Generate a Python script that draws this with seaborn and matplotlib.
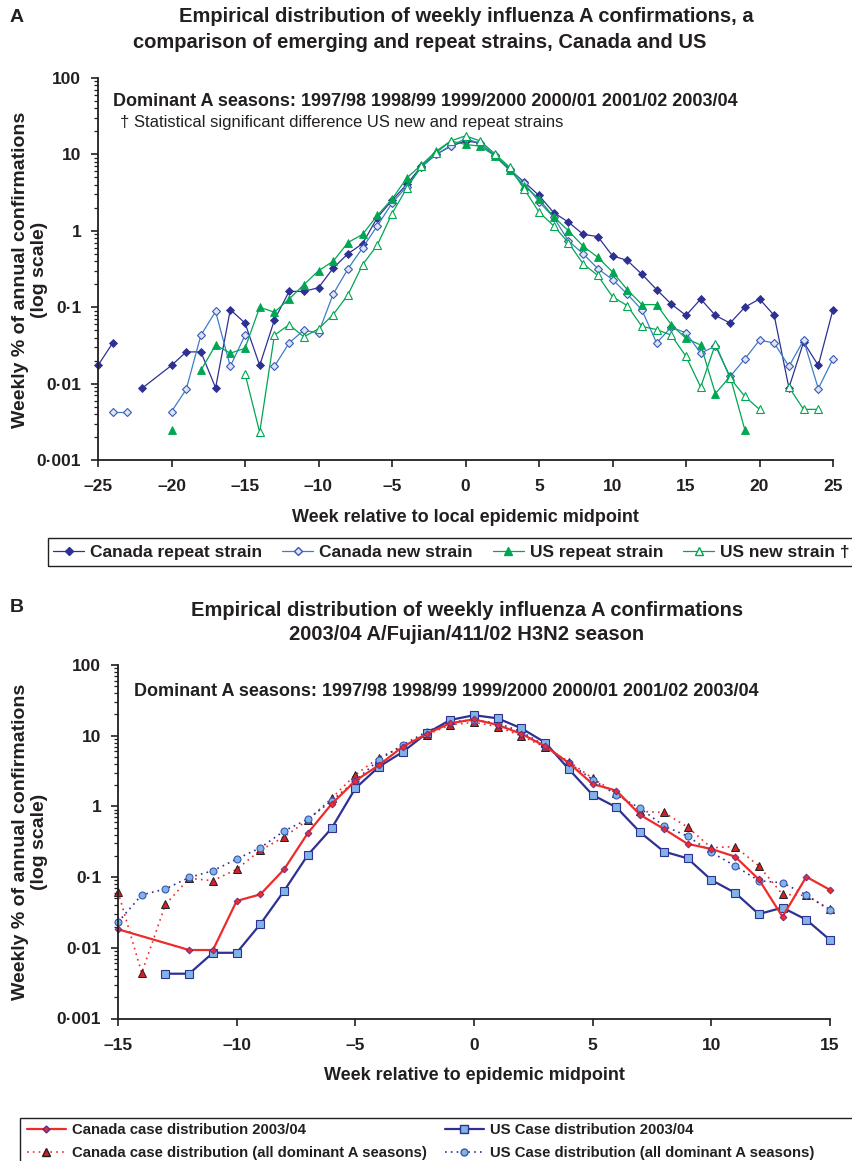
import numpy as np
import pandas as pd
import matplotlib
matplotlib.use("Agg")
import matplotlib.pyplot as plt
import seaborn as sns
from matplotlib.lines import Line2D
from matplotlib.patches import Rectangle
from matplotlib.ticker import FixedLocator, LogLocator, NullFormatter

N = None  # break in a line

# ---------------- Panel A data (week relative to midpoint, weekly %) ----------------
ca_rep_weeks = [-25, -24, N, -22, -20, -19, -18, -17, -16, -15, -14, -13, -12, -11, -10, -9, -8, -7, -6, -5,
                -4, -3, -2, -1, 0, 1, 2, 3, 4, 5, 6, 7, 8, 9, 10, 11, 12, 13, 14, 15, 16, 17, 18, 19, 20,
                21, 22, 23, 24, 25]
ca_rep_vals = [0.0173, 0.034, N, 0.0087, 0.0173, 0.026, 0.026, 0.0088, 0.093, 0.062, 0.0173, 0.068, 0.161,
               0.161, 0.18, 0.325, 0.50, 0.68, 1.49, 2.5, 4.05, 7.0, 10.0, 12.8, 15.0, 14.1, 9.5, 6.3, 4.35,
               2.9, 1.73, 1.3, 0.9, 0.84, 0.47, 0.41, 0.27, 0.17, 0.11, 0.078, 0.128, 0.078, 0.062, 0.10,
               0.128, 0.078, 0.0088, 0.035, 0.0173, 0.093]

ca_new_weeks = [-24, -23, N, -20, -19, -18, -17, -16, -15, N, -13, -12, -11, -10, -9, -8, -7, -6, -5, -4,
                -3, -2, -1, 0, 1, 2, 3, 4, 5, 6, 7, 8, 9, 10, 11, 12, 13, 14, 15, 16, 17, 18, 19, 20, 21,
                22, 23, 24, 25]
ca_new_vals = [0.0043, 0.0043, N, 0.0043, 0.0084, 0.043, 0.088, 0.0168, 0.043, N, 0.0168, 0.034, 0.05,
               0.046, 0.149, 0.316, 0.6, 1.16, 2.3, 3.8, 6.8, 10.0, 13.0, 16.0, 14.0, 9.8, 6.5, 4.2, 2.4,
               1.5, 0.74, 0.50, 0.32, 0.23, 0.149, 0.092, 0.034, 0.055, 0.046, 0.025, 0.031, 0.0124, 0.021,
               0.037, 0.034, 0.0168, 0.037, 0.0086, 0.021]

us_rep_weeks = [-20, N, -18, -17, -16, -15, -14, -13, -12, -11, -10, -9, -8, -7, -6, -5, -4, -3, -2, -1,
                0, 1, 2, 3, 4, 5, 6, 7, 8, 9, 10, 11, 12, 13, 14, 15, 16, 17, 18, 19]
us_rep_vals = [0.0025, N, 0.0149, 0.032, 0.025, 0.029, 0.10, 0.086, 0.128, 0.197, 0.30, 0.40, 0.70, 0.90,
               1.59, 2.6, 4.9, 7.3, 11.0, 15.0, 13.5, 12.8, 9.6, 6.2, 3.9, 2.6, 1.52, 1.0, 0.63, 0.45,
               0.29, 0.17, 0.108, 0.108, 0.059, 0.039, 0.032, 0.0074, 0.0124, 0.0025]

us_new_weeks = [-15, -14, -13, -12, -11, -10, -9, -8, -7, -6, -5, -4, -3, -2, -1, 0, 1, 2, 3, 4, 5, 6, 7,
                8, 9, 10, 11, 12, 13, 14, 15, 16, 17, 18, 19, 20, N, 22, 23, 24]
us_new_vals = [0.0135, 0.0023, 0.043, 0.059, 0.041, 0.052, 0.080, 0.145, 0.36, 0.65, 1.68, 3.6, 7.0, 10.5,
               15.0, 17.5, 15.0, 10.2, 6.8, 3.5, 1.76, 1.16, 0.70, 0.37, 0.26, 0.137, 0.105, 0.056, 0.051,
               0.043, 0.0227, 0.009, 0.033, 0.0118, 0.0068, 0.0046, N, 0.009, 0.0046, 0.0046]

# ---------------- Panel B data ----------------
ca_0304_weeks = [-15, -12, -11, -10, -9, -8, -7, -6, -5, -4, -3, -2, -1, 0, 1, 2, 3, 4, 5, 6, 7, 8, 9, 10,
                 11, 12, 13, 14, 15]
ca_0304_vals = [0.0183, 0.0093, 0.0093, 0.046, 0.057, 0.129, 0.42, 1.08, 2.3, 3.85, 7.0, 10.6, 15.0, 17.0,
                14.2, 10.6, 7.1, 4.1, 2.07, 1.67, 0.76, 0.48, 0.295, 0.25, 0.195, 0.093, 0.0275, 0.101, 0.066]

us_0304_weeks = [-13, -12, -11, -10, -9, -8, -7, -6, -5, -4, -3, -2, -1, 0, 1, 2, 3, 4, 5, 6, 7, 8, 9, 10,
                 11, 12, 13, 14, 15]
us_0304_vals = [0.0043, 0.0043, 0.0085, 0.0085, 0.0217, 0.064, 0.206, 0.49, 1.8, 3.65, 5.9, 10.8, 16.7,
                19.5, 17.6, 12.7, 8.0, 3.35, 1.45, 0.97, 0.43, 0.23, 0.184, 0.091, 0.06, 0.030, 0.037,
                0.025, 0.0129]

all_weeks_b = list(range(-15, 16))
ca_all_vals = [0.062, 0.0044, 0.041, 0.096, 0.089, 0.129, 0.24, 0.37, 0.64, 1.3, 2.8, 4.9, 7.0, 10.3, 14.2,
               15.5, 13.4, 9.9, 6.85, 4.3, 2.5, 1.53, 0.85, 0.82, 0.51, 0.26, 0.27, 0.144, 0.057, 0.055, 0.035]
us_all_vals = [0.023, 0.056, 0.068, 0.099, 0.123, 0.18, 0.26, 0.45, 0.66, 1.2, 2.3, 4.6, 7.4, 11.4, 15.8,
               16.7, 15.0, 11.4, 7.2, 4.1, 2.4, 1.45, 0.94, 0.53, 0.38, 0.224, 0.144, 0.089, 0.083, 0.056, 0.034]

ytick_vals = [0.001, 0.01, 0.1, 1, 10, 100]
ytick_labels = ["0\u00b7001", "0\u00b701", "0\u00b71", "1", "10", "100"]
xticks_a = [-25, -20, -15, -10, -5, 0, 5, 10, 15, 20, 25]
xticks_b = [-15, -10, -5, 0, 5, 10, 15]

legend_a_labels = ["Canada repeat strain", "Canada new strain", "US repeat strain", "US new strain \u2020"]
legend_b_labels = ["Canada case distribution 2003/04", "Canada case distribution (all dominant A seasons)",
                   "US Case distribution 2003/04", "US Case distribution (all dominant A seasons)"]

# ---------------- style ----------------
DARK = "#231F20"
NAVY = "#2E3192"
MIDBLUE = "#3D7DC8"
PALEFILL = "#DCE6F7"
GREEN = "#00A651"
RED = "#EE2B2B"
LIGHTBLUE = "#80B3E6"

sns.set_theme(style="ticks")
plt.rcParams["font.family"] = ["Liberation Sans", "DejaVu Sans"]
plt.rcParams["text.color"] = DARK
plt.rcParams["axes.edgecolor"] = DARK
plt.rcParams["xtick.color"] = DARK
plt.rcParams["ytick.color"] = DARK

W, H = 852, 1161
fig = plt.figure(figsize=(W / 100, H / 100), dpi=100)
fig.patch.set_facecolor("white")


def fx(px):
    return px / W


def fy(py):
    return 1 - py / H


def series_df(weeks, vals):
    w = np.array([np.nan if a is None else a for a in weeks], float)
    v = np.array([np.nan if a is None else a for a in vals], float)
    seg = np.cumsum(np.isnan(v))
    df = pd.DataFrame({"week": w, "value": v, "seg": seg})
    return df.dropna()


def draw(ax, weeks, vals, **kw):
    df = series_df(weeks, vals)
    sns.lineplot(data=df, x="week", y="value", units="seg", estimator=None, sort=False,
                 ax=ax, legend=False, clip_on=False, **kw)


def style_axis(ax, xmin, xmax, xticks):
    ax.set_xlim(xmin, xmax)
    ax.set_ylim(0.001, 100)
    ax.set_xticks(xticks)
    ax.set_xticklabels([("\u2013%d" % -t) if t < 0 else str(t) for t in xticks])
    ax.yaxis.set_major_locator(FixedLocator(ytick_vals))
    ax.set_yticklabels(ytick_labels)
    ax.yaxis.set_minor_locator(LogLocator(base=10, subs=np.arange(2, 10)))
    ax.yaxis.set_minor_formatter(NullFormatter())
    ax.set_xlabel("")
    ax.set_ylabel("")
    sns.despine(ax=ax)
    for s in ("left", "bottom"):
        ax.spines[s].set_linewidth(1.3)
        ax.spines[s].set_color(DARK)
    ax.tick_params(axis="both", which="major", length=5, width=1.2, color=DARK,
                   labelsize=12.5, pad=7)
    ax.tick_params(axis="x", which="major", pad=9)
    ax.tick_params(axis="y", which="minor", length=3, width=0.9, color=DARK)
    for lab in ax.get_xticklabels() + ax.get_yticklabels():
        lab.set_fontweight("bold")
    ax.set_facecolor("white")


# ---------------- Panel A ----------------
axA = fig.add_axes([fx(98), fy(460), (833 - 98) / W, (460 - 78) / H])
axA.set_yscale("log")
draw(axA, ca_rep_weeks, ca_rep_vals, color=NAVY, linewidth=0.9, marker="D", markersize=4.5,
     markerfacecolor=NAVY, markeredgecolor=NAVY, markeredgewidth=0.6)
draw(axA, ca_new_weeks, ca_new_vals, color=MIDBLUE, linewidth=0.9, marker="D", markersize=4.5,
     markerfacecolor=PALEFILL, markeredgecolor="#3B57B4", markeredgewidth=0.8)
draw(axA, us_rep_weeks, us_rep_vals, color=GREEN, linewidth=0.9, marker="^", markersize=5.5,
     markerfacecolor=GREEN, markeredgecolor=GREEN, markeredgewidth=0.6)
draw(axA, us_new_weeks, us_new_vals, color=GREEN, linewidth=0.9, marker="^", markersize=5.5,
     markerfacecolor="white", markeredgecolor=GREEN, markeredgewidth=0.8)
style_axis(axA, -25, 25, xticks_a)

# ---------------- Panel B ----------------
axB = fig.add_axes([fx(118), fy(1018.5), (830 - 118) / W, (1018.5 - 665) / H])
axB.set_yscale("log")
draw(axB, all_weeks_b, ca_all_vals, color=RED, linewidth=1.2, linestyle=(0, (1, 2.5)), marker="^",
     markersize=6, markerfacecolor="#D42027", markeredgecolor=DARK, markeredgewidth=0.7)
draw(axB, all_weeks_b, us_all_vals, color=NAVY, linewidth=1.2, linestyle=(0, (1, 2.5)), marker="o",
     markersize=5, markerfacecolor=LIGHTBLUE, markeredgecolor="#3B57B4", markeredgewidth=0.8)
draw(axB, us_0304_weeks, us_0304_vals, color=NAVY, linewidth=1.6, marker="s", markersize=5.5,
     markerfacecolor=LIGHTBLUE, markeredgecolor=NAVY, markeredgewidth=0.8)
draw(axB, ca_0304_weeks, ca_0304_vals, color=RED, linewidth=1.6, marker="D", markersize=3.5,
     markerfacecolor=RED, markeredgecolor="#5B2D8E", markeredgewidth=0.6)
style_axis(axB, -15, 15, xticks_b)

# ---------------- texts ----------------
bold = dict(fontweight="bold", color=DARK)
fig.text(fx(10), fy(17), "A", fontsize=14, ha="left", va="center", **bold)
fig.text(fx(466), fy(17), "Empirical distribution of weekly influenza A confirmations, a",
         fontsize=14.5, ha="center", va="center", **bold)
fig.text(fx(420), fy(43), "comparison of emerging and repeat strains, Canada and US",
         fontsize=14.5, ha="center", va="center", **bold)
fig.text(fx(113), fy(101), "Dominant A seasons: 1997/98 1998/99 1999/2000 2000/01 2001/02 2003/04",
         fontsize=13, ha="left", va="center", **bold)
fig.text(fx(120), fy(122), "\u2020 Statistical significant difference US new and repeat strains",
         fontsize=12, ha="left", va="center", color=DARK)
fig.text(fx(30), fy(270), "Weekly % of annual confirmations\n(log scale)", rotation=90,
         fontsize=14, ha="center", va="center", multialignment="center", linespacing=1.2, **bold)
fig.text(fx(465), fy(518), "Week relative to local epidemic midpoint", fontsize=13,
         ha="center", va="center", **bold)

fig.text(fx(10), fy(607), "B", fontsize=14, ha="left", va="center", **bold)
fig.text(fx(467), fy(610), "Empirical distribution of weekly influenza A confirmations",
         fontsize=14.5, ha="center", va="center", **bold)
fig.text(fx(467), fy(634), "2003/04 A/Fujian/411/02 H3N2 season",
         fontsize=14.5, ha="center", va="center", **bold)
fig.text(fx(134), fy(692), "Dominant A seasons: 1997/98 1998/99 1999/2000 2000/01 2001/02 2003/04",
         fontsize=13, ha="left", va="center", **bold)
fig.text(fx(30), fy(842), "Weekly % of annual confirmations\n(log scale)", rotation=90,
         fontsize=14, ha="center", va="center", multialignment="center", linespacing=1.2, **bold)
fig.text(fx(474), fy(1076), "Week relative to epidemic midpoint", fontsize=13,
         ha="center", va="center", **bold)

# ---------------- legends ----------------
handles_a = [
    Line2D([0], [0], color=NAVY, lw=0.9, marker="D", ms=4.5, mfc=NAVY, mec=NAVY),
    Line2D([0], [0], color=MIDBLUE, lw=0.9, marker="D", ms=4.5, mfc=PALEFILL, mec="#3B57B4"),
    Line2D([0], [0], color=GREEN, lw=0.9, marker="^", ms=5.5, mfc=GREEN, mec=GREEN),
    Line2D([0], [0], color=GREEN, lw=0.9, marker="^", ms=5.5, mfc="white", mec=GREEN),
]
legA = fig.legend(handles_a, legend_a_labels, loc="center", mode="expand", ncol=4,
                  bbox_to_anchor=(fx(53), fy(566), fx(850) - fx(53), (566 - 538) / H),
                  frameon=False, prop=dict(weight="bold", size=12.5), handlelength=1.8,
                  handletextpad=0.35, borderpad=0.0, borderaxespad=0.0)
for t in legA.get_texts():
    t.set_color(DARK)
fig.add_artist(Rectangle((fx(48), fy(566)), fx(900) - fx(48), (566 - 538) / H,
                         transform=fig.transFigure, fill=False, edgecolor=DARK, linewidth=1.0))

h_ca0304 = Line2D([0], [0], color=RED, lw=1.6, marker="D", ms=3.5, mfc=RED, mec="#5B2D8E")
h_us0304 = Line2D([0], [0], color=NAVY, lw=1.6, marker="s", ms=5.5, mfc=LIGHTBLUE, mec=NAVY)
h_caall = Line2D([0], [0], color=RED, lw=1.2, ls=(0, (1, 2.5)), marker="^", ms=6, mfc="#D42027", mec=DARK)
h_usall = Line2D([0], [0], color=NAVY, lw=1.2, ls=(0, (1, 2.5)), marker="o", ms=5, mfc=LIGHTBLUE,
                 mec="#3B57B4")
leg_kw = dict(loc="upper left", frameon=False, prop=dict(weight="bold", size=10.7), handlelength=2.6,
              handletextpad=0.4, borderpad=0.0, borderaxespad=0.0, labelspacing=0.62)
legB1 = fig.legend([h_ca0304, h_caall], legend_b_labels[:2], bbox_to_anchor=(fx(27), fy(1123)), **leg_kw)
legB2 = fig.legend([h_us0304, h_usall], legend_b_labels[2:], bbox_to_anchor=(fx(445), fy(1123)), **leg_kw)
for lg in (legB1, legB2):
    for t in lg.get_texts():
        t.set_color(DARK)
fig.add_artist(Rectangle((fx(20), fy(1180)), fx(900) - fx(20), (1180 - 1118) / H,
                         transform=fig.transFigure, fill=False, edgecolor=DARK, linewidth=1.0))

fig.savefig("out.png", dpi=100, facecolor="white")
